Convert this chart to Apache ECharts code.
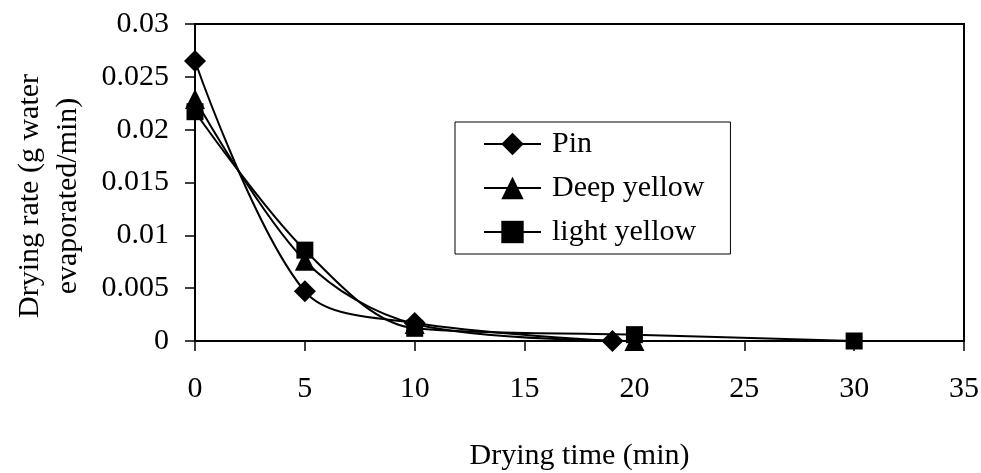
<!DOCTYPE html>
<html>
<head>
<meta charset="utf-8">
<style>
  html, body { margin: 0; padding: 0; background: #fff; }
  #chart { width: 981px; height: 473px; }
</style>
<script src="https://cdn.jsdelivr.net/npm/echarts@6/dist/echarts.min.js"></script>
</head>
<body>
<div id="chart"></div>
<script>
// Drying time (min) and drying rate (g water evaporated/min) per sample
const pinTime = [0, 5, 10, 19];
const pinRate = [0.0265, 0.0047, 0.0017, 0];

const deepTime = [0, 5, 10, 20];
const deepRate = [0.0229, 0.0076, 0.0016, 0];

const lightTime = [0, 5, 10, 20, 30];
const lightRate = [0.0217, 0.0086, 0.0012, 0.0006, 0];

const seriesNames = ['Pin', 'Deep yellow', 'light yellow'];

const xTitle = 'Drying time (min)';
const yTitle = 'Drying rate (g water\nevaporated/min)';

const FONT = '"Liberation Serif", "Times New Roman", serif';

function pairs(xs, ys) {
  return xs.map((x, i) => [x, ys[i]]);
}

function lineSeries(name, data, symbol, size) {
  return {
    name: name,
    type: 'line',
    data: data,
    smooth: 0.33,
    symbol: symbol,
    symbolSize: size,
    showAllSymbol: true,
    lineStyle: { color: '#000', width: 2 },
    itemStyle: { color: '#000', borderWidth: 0 },
    emphasis: { disabled: true },
    z: 3
  };
}

const chart = echarts.init(document.getElementById('chart'), null, { renderer: 'canvas' });

chart.setOption({
  animation: false,
  backgroundColor: '#fff',
  textStyle: { fontFamily: FONT, color: '#000' },
  grid: {
    left: 195, right: 17, top: 24, bottom: 132,
    containLabel: false,
    outerBoundsMode: 'none',
    show: true, borderColor: '#000', borderWidth: 2, backgroundColor: 'transparent'
  },
  legend: {
    orient: 'vertical',
    left: 455, top: 122,
    padding: [7, 26, 7, 28],
    itemGap: 14,
    itemWidth: 57,
    itemHeight: 28,
    borderColor: '#000',
    borderWidth: 1,
    borderRadius: 0,
    backgroundColor: '#fff',
    textStyle: { fontFamily: FONT, fontSize: 30, color: '#000', padding: [0, 0, 0, 6] },
    data: seriesNames
  },
  xAxis: {
    type: 'value',
    min: 0, max: 35, interval: 5,
    name: xTitle,
    nameLocation: 'middle',
    nameGap: 100,
    nameTextStyle: { fontFamily: FONT, fontSize: 30, color: '#000' },
    axisLine: { show: true, onZero: false, lineStyle: { color: '#000', width: 2 } },
    axisTick: { show: true, inside: false, length: 10, lineStyle: { color: '#000', width: 1.5 } },
    axisLabel: { fontFamily: FONT, fontSize: 30, color: '#000', margin: 33 },
    splitLine: { show: false }
  },
  yAxis: {
    type: 'value',
    min: 0, max: 0.03, interval: 0.005,
    axisLine: { show: true, onZero: false, lineStyle: { color: '#000', width: 2 } },
    axisTick: { show: true, inside: false, length: 10, lineStyle: { color: '#000', width: 1.5 } },
    axisLabel: { fontFamily: FONT, fontSize: 30, color: '#000', margin: 26 },
    splitLine: { show: false }
  },
  graphic: [{
    type: 'text',
    x: 49, y: 196,
    rotation: Math.PI / 2,
    style: {
      text: yTitle,
      fontFamily: FONT,
      fontSize: 30,
      lineHeight: 38,
      fill: '#000',
      align: 'center',
      verticalAlign: 'middle'
    }
  }],
  series: [
    lineSeries(seriesNames[0], pairs(pinTime, pinRate), 'diamond', 22),
    lineSeries(seriesNames[1], pairs(deepTime, deepRate), 'triangle', 20),
    lineSeries(seriesNames[2], pairs(lightTime, lightRate), 'rect', 17)
  ]
});
</script>
</body>
</html>
